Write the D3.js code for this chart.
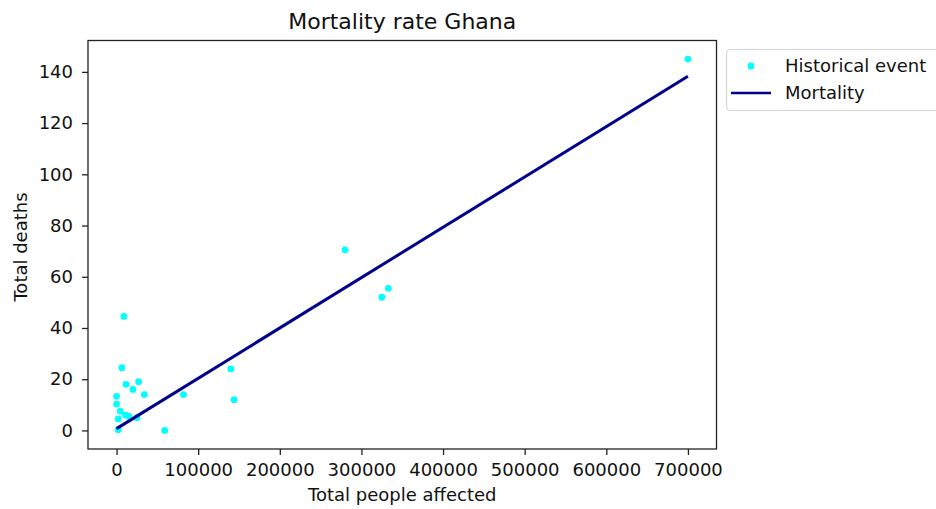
<!DOCTYPE html>
<html>
<head>
<meta charset="utf-8">
<script src="https://cdn.jsdelivr.net/npm/d3@7"></script>
<style>
  body { margin: 0; background: #fff; }
  text { font-family: "DejaVu Sans", sans-serif; fill: #111; }
</style>
</head>
<body>
<div id="chart-area"></div>
<script>
// data
var affected = [700000, 280000, 325000, 333000, 140000, 144000, 82000, 59000,
                9000, 6500, 11500, 27000, 20000, 34000, 0, 0, 4500, 11000, 15000, 2000, 25000, 2000];
var deaths = [145, 70.5, 52, 55.5, 24, 12, 14, 0,
              44.5, 24.5, 18, 19, 16, 14, 13.3, 10.3, 7.5, 6, 5.5, 4.5, 5, 0.3];
var fitX = [0, 700000];
var fitY = [0.7, 138.3];
var xTicks = [0, 100000, 200000, 300000, 400000, 500000, 600000, 700000];
var yTicks = [0, 20, 40, 60, 80, 100, 120, 140];
var legendLabels = ["Historical event", "Mortality"];

var width = 936, height = 509;
var plot = {left: 88, right: 716.5, top: 40.5, bottom: 449};

var svg = d3.select("#chart-area").append("svg").attr("width", width).attr("height", height);

var x = d3.scaleLinear().domain([-35000, 735000]).range([plot.left, plot.right]);
var y = d3.scaleLinear().domain([-7.25, 152.25]).range([plot.bottom, plot.top]);

// axes
var xAxis = d3.axisBottom(x).tickValues(xTicks).tickFormat(d3.format("d")).tickSize(6).tickPadding(8);
var yAxis = d3.axisLeft(y).tickValues(yTicks).tickSize(6).tickPadding(9);

var xg = svg.append("g").attr("transform", "translate(0," + plot.bottom + ")").call(xAxis);
var yg = svg.append("g").attr("transform", "translate(" + plot.left + ",0)").call(yAxis);
[xg, yg].forEach(function(g) {
  g.select(".domain").remove();
  g.selectAll(".tick line").attr("stroke", "#222").attr("stroke-width", 1.3);
  g.selectAll(".tick text").attr("font-size", "18px").attr("font-family", "DejaVu Sans").attr("fill", "#111");
});

// frame
svg.append("rect").attr("x", plot.left).attr("y", plot.top)
  .attr("width", plot.right - plot.left).attr("height", plot.bottom - plot.top)
  .attr("fill", "none").attr("stroke", "#222").attr("stroke-width", 1.3);

// points
var pts = affected.map(function(a, i) { return {a: a, d: deaths[i]}; });
svg.append("g").selectAll("circle").data(pts).enter().append("circle")
  .attr("cx", function(p) { return x(p.a); })
  .attr("cy", function(p) { return y(p.d); })
  .attr("r", 3.4)
  .attr("fill", "#00ffff");

// fit line
var line = d3.line().x(function(d) { return x(d[0]); }).y(function(d) { return y(d[1]); });
svg.append("path").datum(fitX.map(function(v, i) { return [v, fitY[i]]; }))
  .attr("d", line).attr("fill", "none").attr("stroke", "#00008b").attr("stroke-width", 3);

// labels
svg.append("text").attr("x", (plot.left + plot.right) / 2).attr("y", 29)
  .attr("text-anchor", "middle").attr("font-size", "22px").text("Mortality rate Ghana");
svg.append("text").attr("x", (plot.left + plot.right) / 2).attr("y", 501)
  .attr("text-anchor", "middle").attr("font-size", "18px").text("Total people affected");
svg.append("text").attr("transform", "translate(27," + 247 + ") rotate(-90)")
  .attr("text-anchor", "middle").attr("font-size", "18px").text("Total deaths");

// legend
var legend = svg.append("g");
legend.append("rect").attr("x", 726.5).attr("y", 49.5).attr("width", 240).attr("height", 61)
  .attr("rx", 4).attr("fill", "#fff").attr("fill-opacity", 0.8).attr("stroke", "#d4d4d4").attr("stroke-width", 1.2);
legend.append("circle").attr("cx", 751).attr("cy", 66).attr("r", 3.4).attr("fill", "#00ffff");
legend.append("line").attr("x1", 731).attr("x2", 771).attr("y1", 93).attr("y2", 93)
  .attr("stroke", "#00008b").attr("stroke-width", 2.6);
legendLabels.forEach(function(l, i) {
  legend.append("text").attr("x", 785).attr("y", 72 + i * 27).attr("font-size", "18px").text(l);
});
</script>
</body>
</html>
